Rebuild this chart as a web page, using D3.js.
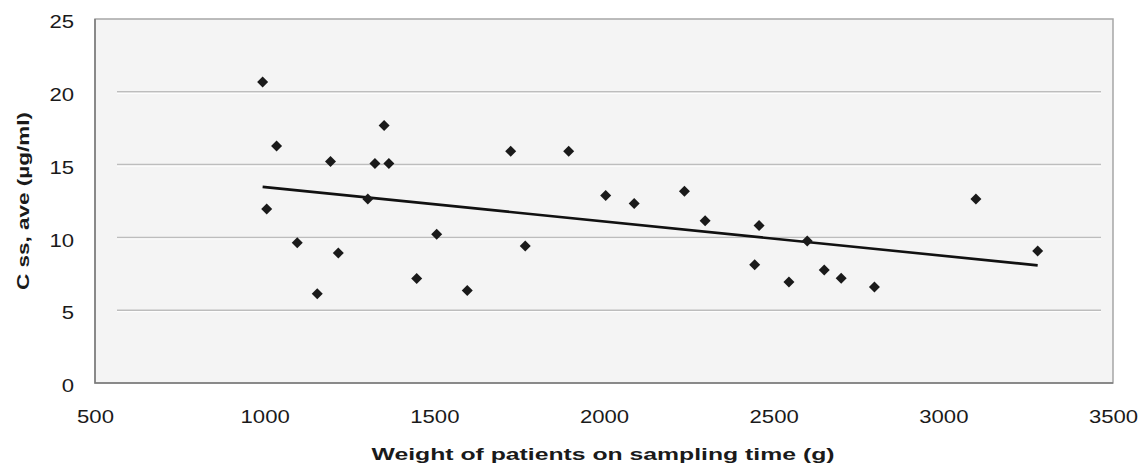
<!DOCTYPE html>
<html>
<head>
<meta charset="utf-8">
<script src="https://cdnjs.cloudflare.com/ajax/libs/d3/7.8.5/d3.min.js"></script>
<style>
  body { margin: 0; background: #fff; }
  svg text { font-family: "Liberation Sans", Arial, sans-serif; fill: #1a1a1a; }
</style>
</head>
<body>
<div id="chart"></div>
<script>
// weight (g) and Css,ave (µg/ml)
const weights = [994, 1006, 1035, 1096, 1155, 1194, 1217, 1304, 1325, 1352,
  1366, 1448, 1507, 1597, 1725, 1768, 1896, 2005, 2089, 2237,
  2298, 2444, 2457, 2545, 2599, 2649, 2699, 2797, 3096, 3278];
const cssAve = [20.67, 11.95, 16.27, 9.64, 6.13, 15.21, 8.93, 12.64, 15.08, 17.69,
  15.08, 7.17, 10.21, 6.36, 15.92, 9.41, 15.92, 12.87, 12.32, 13.17,
  11.15, 8.13, 10.81, 6.93, 9.75, 7.76, 7.19, 6.59, 12.64, 9.07];
// linear trend end points
const trendX = [994, 3278];
const trendY = [13.47, 8.08];

const xTicks = [500, 1000, 1500, 2000, 2500, 3000, 3500];
const yTicks = [0, 5, 10, 15, 20, 25];

const W = 1145, H = 467;
const margin = { top: 19, right: 32, bottom: 84, left: 95 };
const width = W - margin.left - margin.right;
const height = H - margin.top - margin.bottom;

const svg = d3.select('#chart').append('svg')
  .attr('width', W)
  .attr('height', H);

const x = d3.scaleLinear().domain([500, 3500]).range([margin.left, margin.left + width]);
const y = d3.scaleLinear().domain([0, 25]).range([margin.top + height, margin.top]);

// plot area
svg.append('rect')
  .attr('x', margin.left).attr('y', margin.top)
  .attr('width', width).attr('height', height)
  .attr('fill', '#f4f4f4')
  .attr('stroke', '#a6a6a6')
  .attr('stroke-width', 1.5);
// darker left / bottom edges
svg.append('path')
  .attr('d', `M${margin.left},${margin.top} V${margin.top + height} H${margin.left + width}`)
  .attr('fill', 'none')
  .attr('stroke', '#7a7a7a')
  .attr('stroke-width', 1.5);

// gridlines (inset like the original)
const grid = svg.append('g');
yTicks.filter(d => d > 0 && d < 25).forEach(d => {
  grid.append('line')
    .attr('x1', margin.left + 22).attr('x2', margin.left + width - 12)
    .attr('y1', y(d)).attr('y2', y(d))
    .attr('stroke', '#bdbdbd').attr('stroke-width', 1.5);
  grid.append('line')
    .attr('x1', margin.left + 22).attr('x2', margin.left + width - 12)
    .attr('y1', y(d) + 1.5).attr('y2', y(d) + 1.5)
    .attr('stroke', '#ffffff').attr('stroke-width', 1);
});

// axes
const digitW = 12.3;
const fmt = d3.format('d');
const yAxis = d3.axisLeft(y).tickValues(yTicks).tickFormat(fmt).tickSize(0).tickPadding(21);
const gy = svg.append('g')
  .attr('transform', `translate(${margin.left},0)`)
  .call(yAxis);
gy.select('.domain').remove();
gy.selectAll('text')
  .attr('dy', '0.46em')
  .style('font-size', '19px')
  .attr('textLength', d => fmt(d).length * digitW)
  .attr('lengthAdjust', 'spacingAndGlyphs');

const xAxis = d3.axisBottom(x).tickValues(xTicks).tickFormat(fmt).tickSize(0).tickPadding(27);
const gx = svg.append('g')
  .attr('transform', `translate(0,${margin.top + height})`)
  .call(xAxis);
gx.select('.domain').remove();
gx.selectAll('text')
  .style('font-size', '19px')
  .attr('textLength', d => fmt(d).length * digitW)
  .attr('lengthAdjust', 'spacingAndGlyphs');

// trend line
const line = d3.line().x(d => x(d[0])).y(d => y(d[1]));
svg.append('path')
  .datum(d3.zip(trendX, trendY))
  .attr('d', line)
  .attr('fill', 'none')
  .attr('stroke', '#111')
  .attr('stroke-width', 2.6);

// diamond markers
const r = 5.5;
svg.append('g').selectAll('path')
  .data(d3.zip(weights, cssAve))
  .enter()
  .append('path')
    .attr('transform', d => `translate(${x(d[0])},${y(d[1])})`)
    .attr('d', `M0,${-r} L${r},0 L0,${r} L${-r},0 Z`)
    .attr('fill', '#1a1a1a');

// axis titles
svg.append('text')
  .attr('x', 603).attr('y', 460)
  .attr('text-anchor', 'middle')
  .style('font-size', '17px')
  .style('font-weight', 'bold')
  .attr('textLength', 463)
  .attr('lengthAdjust', 'spacingAndGlyphs')
  .text('Weight of patients on sampling time (g)');

svg.append('text')
  .attr('transform', `translate(29,${margin.top + height / 2}) rotate(-90)`)
  .attr('text-anchor', 'middle')
  .style('font-size', '17px')
  .style('font-weight', 'bold')
  .attr('textLength', 178)
  .attr('lengthAdjust', 'spacingAndGlyphs')
  .text('C ss, ave (µg/ml)');
</script>
</body>
</html>
